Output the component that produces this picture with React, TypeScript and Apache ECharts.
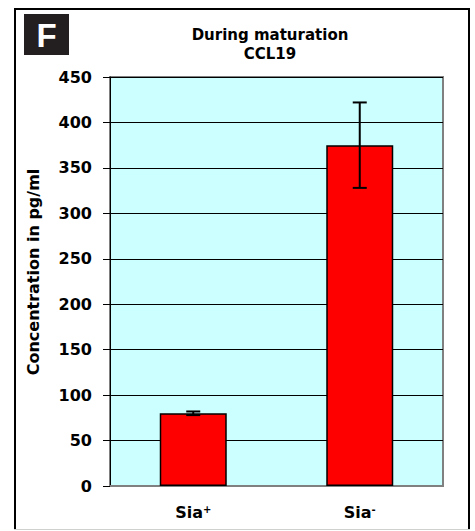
import React, { useEffect, useRef } from "react";
import * as echarts from "echarts";

const categories = ["Sia+", "Sia-"];
const values = [80, 375];
const errors = [2, 47];
const yMin = 0;
const yMax = 450;
const yInterval = 50;
const titleLines = ["During maturation", "CCL19"];
const yAxisTitle = "Concentration in pg/ml";
const panelLetter = "F";

const FONT = "DejaVu Sans";

export default function App() {
  const ref = useRef<HTMLDivElement>(null);
  useEffect(() => {
    if (!ref.current) return;
    const chart = echarts.init(ref.current, undefined, { renderer: "svg" });
    const errData = categories.map((c, i) => [i, values[i] - errors[i], values[i] + errors[i]]);
    chart.setOption({
      animation: false,
      backgroundColor: "#ffffff",
      title: {
        text: titleLines.join("\n"),
        left: 270,
        top: 25,
        textAlign: "center",
        padding: 0,
        textStyle: {
          fontFamily: FONT,
          fontWeight: "bold",
          fontSize: 15,
          lineHeight: 19,
          color: "#000",
        },
      },
      grid: {
        left: 110,
        right: 32,
        top: 77,
        bottom: 45,
        show: true,
        backgroundColor: "#CCFFFF",
        borderColor: "#808080",
        borderWidth: 2,
      },
      xAxis: {
        type: "category",
        data: categories,
        axisLine: { show: true, lineStyle: { color: "#808080", width: 2 } },
        axisTick: { show: false },
        axisLabel: {
          margin: 18,
          formatter: (v: string) => `{b|${v.slice(0, -1)}}{s|${v.slice(-1)}}`,
          rich: {
            b: { fontFamily: FONT, fontWeight: "bold", fontSize: 16, lineHeight: 16, color: "#000" },
            s: { fontFamily: FONT, fontWeight: "bold", fontSize: 10, lineHeight: 10, verticalAlign: "top", color: "#000" },
          },
        },
      },
      yAxis: {
        type: "value",
        min: yMin,
        max: yMax,
        interval: yInterval,
        axisLine: { show: true, lineStyle: { color: "#000", width: 1 } },
        axisTick: { show: true, inside: false, length: 7, lineStyle: { color: "#000", width: 1 } },
        axisLabel: {
          margin: 18,
          fontFamily: FONT,
          fontWeight: "bold",
          fontSize: 16,
          color: "#000",
        },
        splitLine: { show: true, lineStyle: { color: "#000", width: 1 } },
      },
      series: [
        {
          type: "bar",
          data: values,
          barWidth: 67,
          itemStyle: { color: "#FF0000", borderColor: "#000", borderWidth: 1.5 },
          z: 2,
        },
        {
          type: "custom",
          data: errData,
          z: 3,
          renderItem: (params: any, api: any) => {
            const x = api.value(0);
            const lo = api.coord([x, api.value(1)]);
            const hi = api.coord([x, api.value(2)]);
            const cap = 7;
            const style = { stroke: "#000", lineWidth: 2 };
            return {
              type: "group",
              children: [
                { type: "line", shape: { x1: lo[0], y1: lo[1], x2: hi[0], y2: hi[1] }, style },
                { type: "line", shape: { x1: hi[0] - cap, y1: hi[1], x2: hi[0] + cap, y2: hi[1] }, style },
                { type: "line", shape: { x1: lo[0] - cap, y1: lo[1], x2: lo[0] + cap, y2: lo[1] }, style },
              ],
            };
          },
        },
      ],
      graphic: [
        { type: "line", shape: { x1: 15, y1: 8, x2: 15, y2: 530 }, style: { stroke: "#000", lineWidth: 2 } },
        { type: "line", shape: { x1: 14, y1: 9, x2: 470, y2: 9 }, style: { stroke: "#000", lineWidth: 2 } },
        { type: "line", shape: { x1: 469, y1: 8, x2: 469, y2: 530 }, style: { stroke: "#000", lineWidth: 2 } },
        { type: "line", shape: { x1: 14, y1: 529.5, x2: 470, y2: 529.5 }, style: { stroke: "#d0d0d0", lineWidth: 1 } },
        { type: "rect", shape: { x: 24, y: 14, width: 45, height: 41 }, style: { fill: "#231f20" } },
        {
          type: "text",
          x: 46.5,
          y: 35.5,
          style: {
            text: panelLetter,
            fill: "#fff",
            fontFamily: "Liberation Sans",
            fontWeight: "bold",
            fontSize: 33,
            textAlign: "center",
            textVerticalAlign: "middle",
          },
        },
        {
          type: "text",
          x: 33,
          y: 272,
          rotation: Math.PI / 2,
          style: {
            text: yAxisTitle,
            fill: "#000",
            fontFamily: FONT,
            fontWeight: "bold",
            fontSize: 16,
            textAlign: "center",
            textVerticalAlign: "middle",
          },
        },
      ],
    });
    return () => chart.dispose();
  }, []);
  return (
    <div
      ref={ref}
      style={{ position: "fixed", left: 0, top: 0, width: 475, height: 531 }}
    />
  );
}
